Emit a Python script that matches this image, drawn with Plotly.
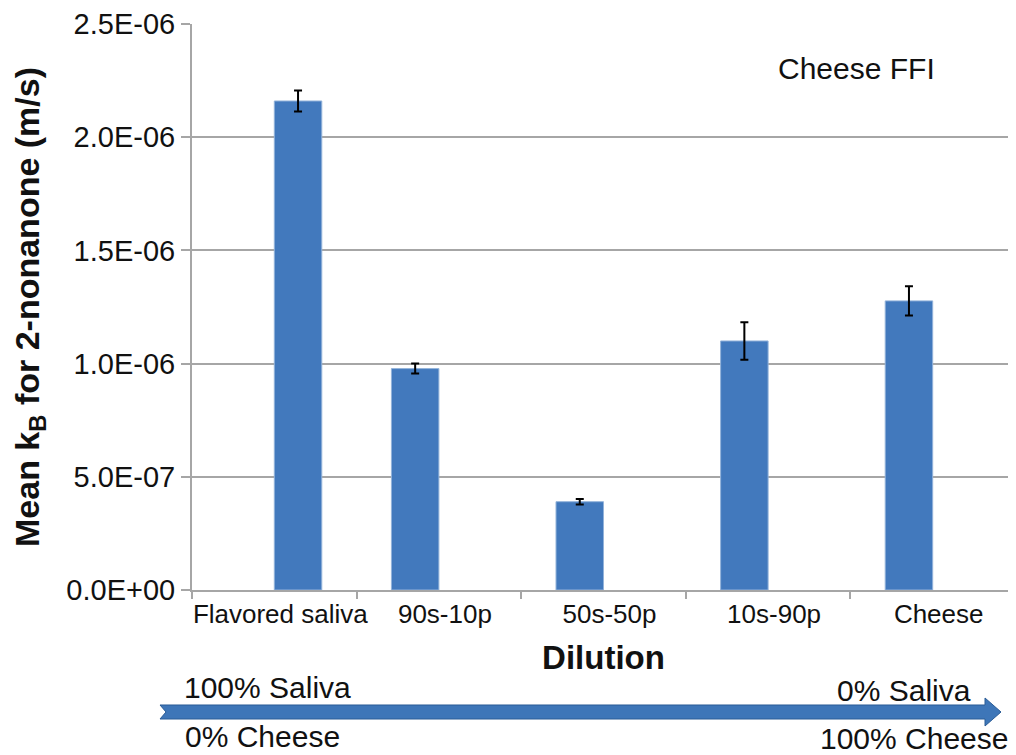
import plotly.graph_objects as go

# data
dilutions = ["Flavored saliva", "90s-10p", "50s-50p", "10s-90p", "Cheese"]
mean_kb = [2.16e-6, 0.978e-6, 0.39e-6, 1.10e-6, 1.277e-6]
kb_err = [0.046e-6, 0.022e-6, 0.012e-6, 0.083e-6, 0.065e-6]
y_ticks = [0, 0.5e-6, 1.0e-6, 1.5e-6, 2.0e-6, 2.5e-6]
y_tick_text = ["0.0E+00", "5.0E-07", "1.0E-06", "1.5E-06", "2.0E-06", "2.5E-06"]

BLUE = "#4279BD"
GRID = "#A6A6A6"
FONT = "Liberation Sans, Arial, sans-serif"

W, H = 1016, 755
PAGE = 8  # body margin of the html page
L, R, T, B = 192 - PAGE, 9, 24 - PAGE, H - (590 - PAGE)


def px(x):
    return (x - PAGE - L) / (W - L - R)


def py(y):
    return 1 - (y - PAGE - T) / (H - T - B)


# the saliva bar sits in the right slot of its group, the others in the left slot
left_y = [None] + mean_kb[1:]
left_err = [0] + kb_err[1:]
right_y = [mean_kb[0]] + [None] * (len(dilutions) - 1)
right_err = [kb_err[0]] + [0] * (len(dilutions) - 1)

fig = go.Figure()
for ys, es in [(left_y, left_err), (right_y, right_err)]:
    fig.add_bar(
        x=dilutions,
        y=ys,
        marker=dict(color=BLUE, line=dict(color="#93B3DA", width=1)),
        error_y=dict(type="data", array=es, color="black", thickness=2, width=4),
        showlegend=False,
    )

fig.add_annotation(
    x=px(856), y=py(68), xref="paper", yref="paper",
    text="Cheese FFI", showarrow=False, xanchor="center", yanchor="middle",
    font=dict(size=30, color="#111", family=FONT),
)

# direction arrow under the axis
arrow = [(160, 705), (985, 705), (985, 698), (1001, 712), (985, 726),
         (985, 719), (160, 719), (166, 712)]
path = "M " + " L ".join(f"{px(x):.5f},{py(y):.5f}" for x, y in arrow) + " Z"
fig.add_shape(
    type="path", path=path, xref="paper", yref="paper",
    fillcolor="#3E76B8", line=dict(color="#2B5C96", width=1),
)
for txt, x, y, anchor in [
    ("100% Saliva", 182, 688, "left"),
    ("0% Cheese", 183, 736, "left"),
    ("0% Saliva", 973, 690, "right"),
    ("100% Cheese", 1010, 738, "right"),
]:
    fig.add_annotation(
        x=px(x), y=py(y), xref="paper", yref="paper",
        text=txt, showarrow=False, xanchor=anchor, yanchor="middle",
        font=dict(size=30, color="#111", family=FONT),
    )

fig.update_layout(
    width=W, height=H,
    margin=dict(l=L, r=R, t=T, b=B),
    barmode="group",
    bargap=0.423,
    bargroupgap=0,
    plot_bgcolor="white",
    paper_bgcolor="white",
    font=dict(family=FONT, color="#111"),
    xaxis=dict(
        categoryorder="array", categoryarray=dilutions,
        automargin=False,
        showline=True, linecolor=GRID, linewidth=2,
        ticks="outside", tickson="boundaries", ticklen=7, tickcolor=GRID, tickwidth=2,
        tickangle=0, ticklabelshift=6,
        tickfont=dict(size=26),
        title=dict(text="<b>Dilution</b>", font=dict(size=33), standoff=18),
    ),
    yaxis=dict(
        range=[0, 2.5e-6],
        automargin=False,
        tickvals=y_ticks, ticktext=y_tick_text,
        showgrid=True, gridcolor=GRID, gridwidth=2,
        showline=True, linecolor=GRID, linewidth=2,
        ticks="outside", ticklen=9, tickcolor=GRID, tickwidth=2,
        tickfont=dict(size=29),
        zeroline=False,
        title=dict(text="<b>Mean k<sub>B</sub> for 2-nonanone (m/s)</b>",
                   font=dict(size=34), standoff=25),
    ),
)

fig.write_html("out.html")
